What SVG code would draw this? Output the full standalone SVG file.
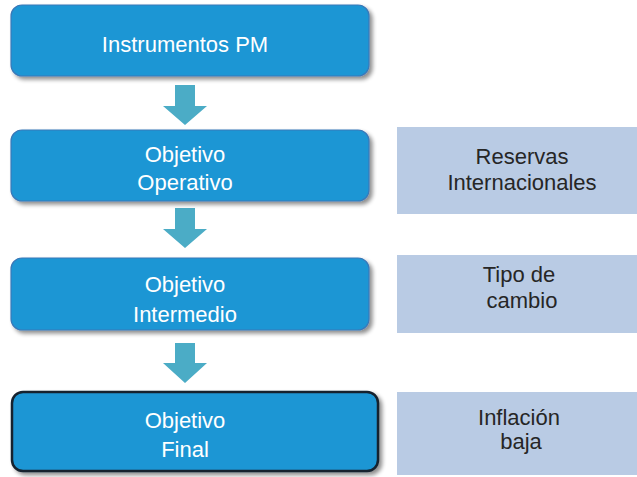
<svg xmlns="http://www.w3.org/2000/svg" width="637" height="477" viewBox="0 0 637 477">
<defs>
<filter id="sh" x="-10%" y="-20%" width="130%" height="150%">
<feGaussianBlur in="SourceAlpha" stdDeviation="2"/>
<feOffset dx="3" dy="3" result="b"/>
<feComponentTransfer><feFuncA type="linear" slope="0.45"/></feComponentTransfer>
<feMerge><feMergeNode/><feMergeNode in="SourceGraphic"/></feMerge>
</filter>
</defs>
<style>
.b{fill:#1c96d4;stroke:#3a78b8;stroke-width:1.2;filter:url(#sh)}
.bf{fill:#1c96d4;stroke:#15222e;stroke-width:2.5;filter:url(#sh)}
.s{fill:#b9cbe4}
.t{font-family:"Liberation Sans",Arial,sans-serif;font-size:22px;fill:#ffffff;text-anchor:middle}
.d{font-family:"Liberation Sans",Arial,sans-serif;font-size:22px;fill:#262626;text-anchor:middle}
.a{fill:#4bacc6}
</style>
<g id="connectors">
<polygon class="a" points="175,85 195,85 195,106 207,106 185,125 163,106 175,106"/>
<polygon class="a" points="175,208 195,208 195,229 207,229 185,248 163,229 175,229"/>
<polygon class="a" points="175,343 195,343 195,363 207,363 185,383 163,363 175,363"/>
</g>
<g id="n1"><rect class="b" x="11" y="5" width="358" height="71" rx="11"/><text class="t" x="185" y="52">Instrumentos PM</text></g>
<g id="n2"><rect class="b" x="11" y="130" width="358" height="71" rx="11"/><text class="t" x="185" y="162">Objetivo</text><text class="t" x="185" y="190">Operativo</text></g>
<g id="n3"><rect class="b" x="11" y="258" width="358" height="72" rx="11"/><text class="t" x="185" y="292">Objetivo</text><text class="t" x="185" y="322">Intermedio</text></g>
<g id="n4"><rect class="bf" x="12" y="392" width="366" height="79" rx="11"/><text class="t" x="185" y="428">Objetivo</text><text class="t" x="185" y="457">Final</text></g>
<g id="r1"><rect class="s" x="397" y="127" width="240" height="87"/><text class="d" x="522" y="164">Reservas</text><text class="d" x="522" y="190">Internacionales</text></g>
<g id="r2"><rect class="s" x="397" y="255" width="240" height="78"/><text class="d" x="519" y="282">Tipo de</text><text class="d" x="522" y="308">cambio</text></g>
<g id="r3"><rect class="s" x="397" y="392" width="240" height="83"/><text class="d" x="519" y="425">Inflación</text><text class="d" x="521" y="449">baja</text></g>
</svg>
